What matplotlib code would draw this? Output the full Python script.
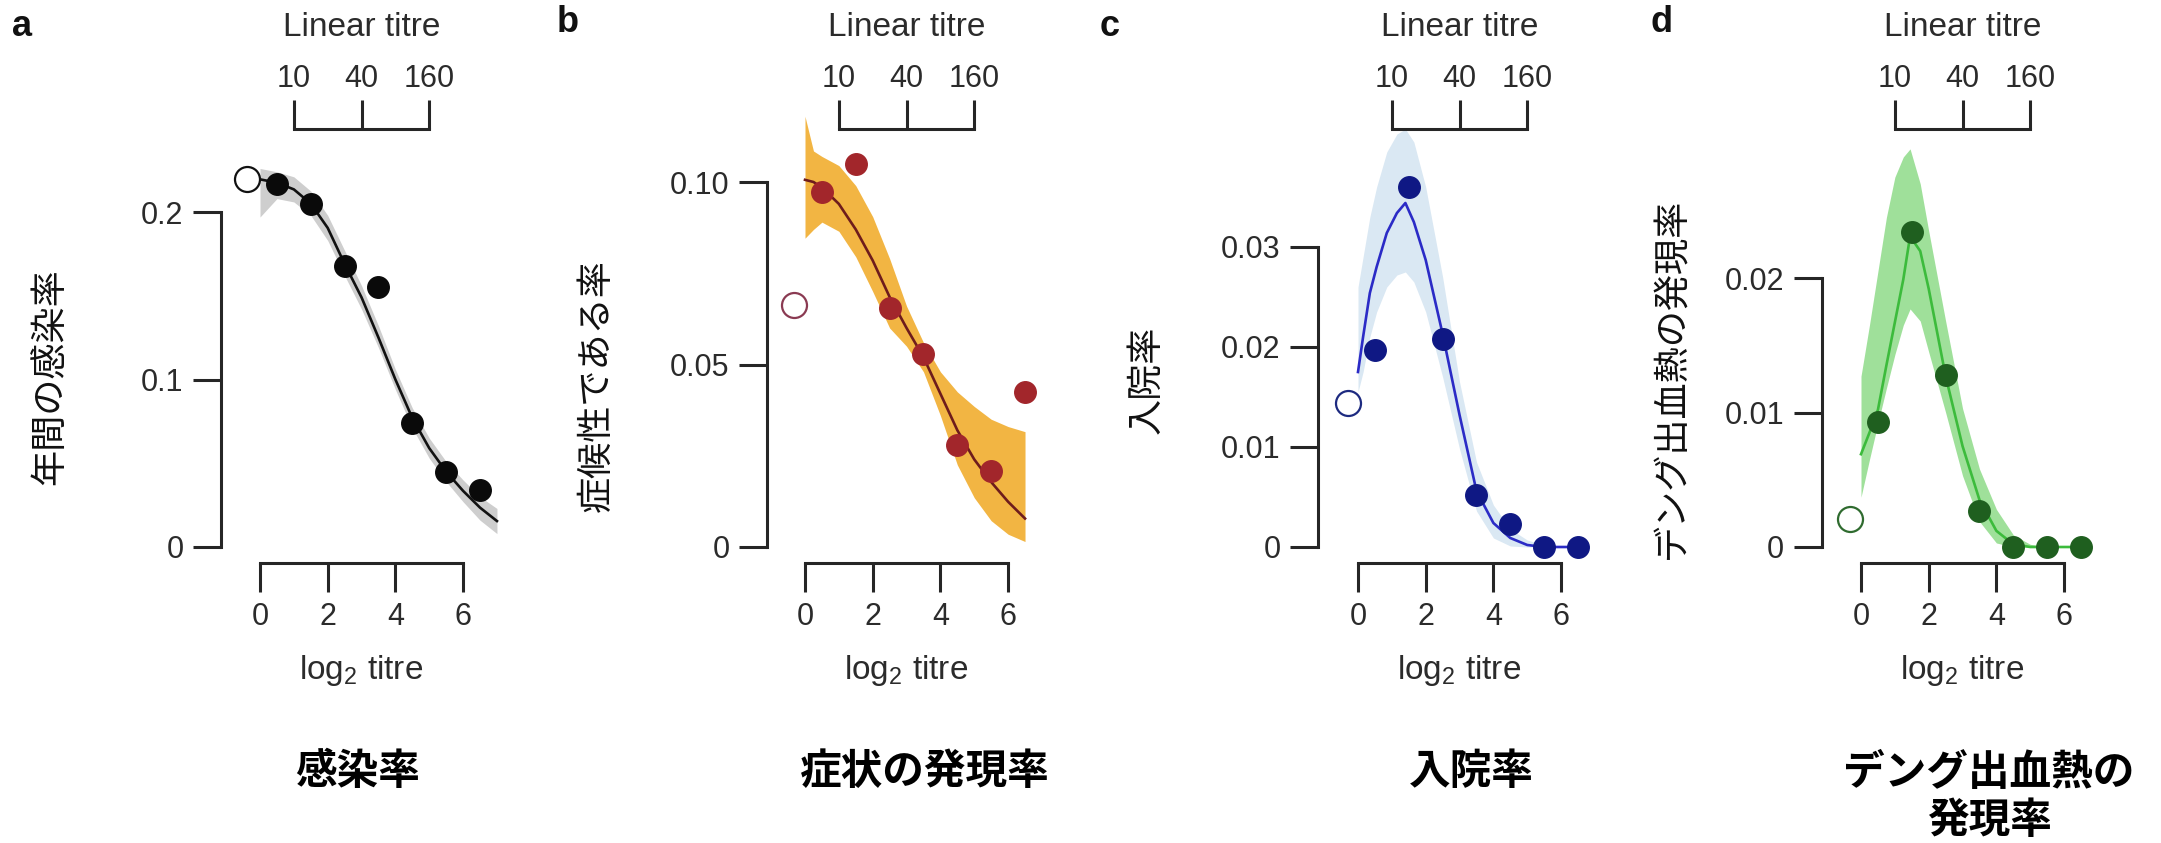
import matplotlib
matplotlib.use("Agg")
import matplotlib.pyplot as plt

plt.rcParams['font.family'] = ['Liberation Sans', 'Noto Sans CJK JP']
plt.rcParams['mathtext.fontset'] = 'custom'
plt.rcParams['mathtext.rm'] = 'Liberation Sans'
plt.rcParams['mathtext.default'] = 'regular'

# ---- data (log2 titre on x) ----
dot_x = [0.5, 1.5, 2.5, 3.5, 4.5, 5.5, 6.5]

a_dots = [0.217, 0.205, 0.168, 0.155, 0.074, 0.045, 0.034]
a_open = (-0.37, 0.220)
a_fit_x = [0, 0.5, 1, 1.5, 2, 2.5, 3, 3.5, 4, 4.5, 5, 5.5, 6, 6.5, 7]
a_fit = [0.2195, 0.2175, 0.2135, 0.205, 0.1905, 0.169, 0.149, 0.125, 0.100, 0.077, 0.059, 0.045, 0.0335, 0.0235, 0.0155]
a_hi = [0.226, 0.224, 0.221, 0.2125, 0.198, 0.177, 0.156, 0.132, 0.106, 0.083, 0.065, 0.051, 0.040, 0.030, 0.023]
a_lo = [0.197, 0.208, 0.206, 0.198, 0.183, 0.162, 0.142, 0.119, 0.094, 0.071, 0.053, 0.039, 0.027, 0.016, 0.008]

b_dots = [0.0972, 0.1049, 0.0655, 0.0528, 0.0280, 0.0208, 0.0424]
b_open = (-0.33, 0.0662)
b_fit_x = [0, 0.25, 0.5, 1, 1.5, 2, 2.5, 3, 3.5, 4, 4.5, 5, 5.5, 6, 6.5]
b_fit = [0.1006, 0.1000, 0.0985, 0.0940, 0.0870, 0.0785, 0.0685, 0.0600, 0.0520, 0.0420, 0.0320, 0.0240, 0.0178, 0.0124, 0.0078]
b_hi = [0.118, 0.1085, 0.107, 0.1045, 0.099, 0.0905, 0.079, 0.066, 0.056, 0.048, 0.0425, 0.0385, 0.035, 0.033, 0.0316]
b_lo = [0.0846, 0.087, 0.089, 0.0865, 0.0795, 0.070, 0.060, 0.055, 0.048, 0.036, 0.0225, 0.0135, 0.0072, 0.0035, 0.0015]

c_dots = [0.0197, 0.0360, 0.0208, 0.0052, 0.0023, 0.0, 0.0]
c_open = (-0.29, 0.0144)
c_fit_x = [0, 0.15, 0.35, 0.55, 0.85, 1.15, 1.4, 1.65, 2.0, 2.5, 3.0, 3.5, 4.0, 4.5, 5.0, 5.5, 6.0, 6.5]
c_fit = [0.0175, 0.021, 0.0254, 0.028, 0.0314, 0.0334, 0.0344, 0.0325, 0.0287, 0.0213, 0.0132, 0.0056, 0.0024, 0.0009, 0.0002, 0.0, 0.0, 0.0]
c_hi = [0.026, 0.029, 0.033, 0.036, 0.0395, 0.0413, 0.0418, 0.0405, 0.036, 0.027, 0.0165, 0.0085, 0.0042, 0.0018, 0.0007, 0.0002, 0.0, 0.0]
c_lo = [0.0155, 0.0175, 0.021, 0.0235, 0.026, 0.0272, 0.0275, 0.0265, 0.0235, 0.017, 0.0098, 0.0036, 0.0009, 0.0001, 0.0, 0.0, 0.0, 0.0]

d_dots = [0.0093, 0.0234, 0.0128, 0.0027, 0.0, 0.0, 0.0]
d_open = (-0.33, 0.0021)
d_fit_x = [0, 0.25, 0.5, 0.75, 1.0, 1.25, 1.45, 1.75, 2.0, 2.5, 3.0, 3.5, 4.0, 4.5, 5.0, 5.5, 6.0, 6.5]
d_fit = [0.0069, 0.0085, 0.0102, 0.0135, 0.0167, 0.0199, 0.0231, 0.0220, 0.0192, 0.0127, 0.0075, 0.0035, 0.0012, 0.0002, 0.0, 0.0, 0.0, 0.0]
d_hi = [0.0127, 0.0165, 0.0205, 0.0245, 0.0275, 0.029, 0.0296, 0.027, 0.0235, 0.0168, 0.0103, 0.0058, 0.0028, 0.0009, 0.0002, 0.0, 0.0, 0.0]
d_lo = [0.0037, 0.0065, 0.0092, 0.0118, 0.0143, 0.0165, 0.0177, 0.0168, 0.0145, 0.0100, 0.0053, 0.0019, 0.0003, 0.0, 0.0, 0.0, 0.0, 0.0]

log2_ticks = [0, 2, 4, 6]
linear_ticks = [1, 3, 5]
linear_labels = ['10', '40', '160']

letters = ['a', 'b', 'c', 'd']
ylabels = ['年間の感染率', '症候性である率', '入院率', 'デング出血熱の発現率']
titles = ['感染率', '症状の発現率', '入院率', 'デング出血熱の\n発現率']
yticks = [[0, 0.1, 0.2], [0, 0.05, 0.10], [0, 0.01, 0.02, 0.03], [0, 0.01, 0.02]]
ytick_labels = [['0', '0.1', '0.2'], ['0', '0.05', '0.10'],
                ['0', '0.01', '0.02', '0.03'], ['0', '0.01', '0.02']]

# ---- layout (pixels in the 2161x843 canvas) ----
W, H = 2161, 843
S = 33.85                      # px per log2 unit
x0_px = [260, 805, 1358, 1861]  # pixel of log2 titre = 0
px_per_unit = [1675, 3650, 10000, 13450]
spine_x = [-1.15, -1.12, -1.18, -1.16]
letter_px = [(22, 26), (568, 22), (1110, 26), (1662, 22)]
ylabel_px = [(50, 377), (597, 386), (1147, 380), (1672, 378)]
title_px = [358, 925, 1471, 1989]

styles = [
    dict(band='#cecece', line='#111111', dot='#0a0a0a', ring='#111111'),
    dict(band='#f2b543', line='#6e1c1c', dot='#a2262b', ring='#8a3a52'),
    dict(band='#dae8f3', line='#2b2bc6', dot='#0f1884', ring='#1d2a80'),
    dict(band='#9fe09a', line='#3cbb3c', dot='#1f5f1f', ring='#2f6b2f'),
]

panels = [
    (a_fit_x, a_fit, a_lo, a_hi, a_dots, a_open),
    (b_fit_x, b_fit, b_lo, b_hi, b_dots, b_open),
    (c_fit_x, c_fit, c_lo, c_hi, c_dots, c_open),
    (d_fit_x, d_fit, d_lo, d_hi, d_dots, d_open),
]

fig = plt.figure(figsize=(W / 100, H / 100), dpi=100)
axis_col = '#262626'
text_col = '#2b2b2b'
cjk = ['Noto Sans CJK JP', 'DejaVu Sans']

for i, (fx, fy, lo, hi, dots, ring) in enumerate(panels):
    st = styles[i]
    x0 = x0_px[i]
    top_px, bot_px = 129, 563
    ax = fig.add_axes([(x0 - 1.3 * S) / W, 1 - bot_px / H, 8.6 * S / W, (bot_px - top_px) / H])
    ax.set_xlim(-1.3, 7.3)
    k = px_per_unit[i]
    ax.set_ylim(-(bot_px - 547) / k, (547 - top_px) / k)
    ax.patch.set_alpha(0)

    ax.fill_between(fx, lo, hi, color=st['band'], lw=0, zorder=1, clip_on=False)
    ax.plot(fx, fy, color=st['line'], lw=1.9, zorder=2, clip_on=False)
    ax.plot(dot_x, dots, 'o', ms=15.5, color=st['dot'], mec=st['dot'], zorder=3, clip_on=False)
    ax.plot([ring[0]], [ring[1]], 'o', ms=18, mfc='white', mec=st['ring'], mew=1.6,
            zorder=3, clip_on=False)

    for s in ['right', 'top']:
        ax.spines[s].set_visible(False)
    ax.spines['left'].set_position(('data', spine_x[i]))
    ax.spines['left'].set_bounds(yticks[i][0], yticks[i][-1])
    ax.spines['bottom'].set_bounds(0, 6)
    for s in ['left', 'bottom']:
        ax.spines[s].set_linewidth(2.2)
        ax.spines[s].set_color(axis_col)
    ax.set_yticks(yticks[i])
    ax.set_yticklabels(ytick_labels[i])
    ax.set_xticks(log2_ticks)
    ax.set_xticklabels([str(t) for t in log2_ticks])
    ax.tick_params(axis='y', direction='out', length=20, width=2.2, color=axis_col,
                   labelsize=22, labelcolor=text_col, pad=7)
    ax.tick_params(axis='x', direction='out', length=21, width=2.2, color=axis_col,
                   labelsize=22, labelcolor=text_col, pad=7)

    ax2 = ax.twiny()
    ax2.set_xlim(ax.get_xlim())
    for s in ['left', 'right', 'bottom']:
        ax2.spines[s].set_visible(False)
    ax2.spines['top'].set_bounds(1, 5)
    ax2.spines['top'].set_linewidth(2.2)
    ax2.spines['top'].set_color(axis_col)
    ax2.set_xticks(linear_ticks)
    ax2.set_xticklabels(linear_labels)
    ax2.tick_params(axis='x', direction='out', length=21, width=2.2, color=axis_col,
                    labelsize=22, labelcolor=text_col, pad=4)

    cx = (x0 + 3 * S) / W
    fig.text(cx, 1 - 27 / H, 'Linear titre', ha='center', va='center',
             fontsize=24, color=text_col)
    fig.text(cx, 1 - 670 / H, 'log$_2$ titre', ha='center', va='center',
             fontsize=24, color=text_col)

    lx, ly = letter_px[i]
    fig.text(lx / W, 1 - ly / H, letters[i], ha='center', va='center',
             fontsize=26, fontweight='bold', color='#111111')
    yx, yy = ylabel_px[i]
    fig.text(yx / W, 1 - yy / H, ylabels[i], rotation=90, ha='center', va='center',
             fontsize=26, color='#111111', family=cjk)
    n_lines = titles[i].count('\n')
    fig.text(title_px[i] / W, 1 - (772 + 25 * n_lines) / H, titles[i], ha='center',
             va='center', fontsize=30, fontweight='bold', color='#000000',
             linespacing=1.2, family=cjk)

fig.savefig('out.png', dpi=100)
